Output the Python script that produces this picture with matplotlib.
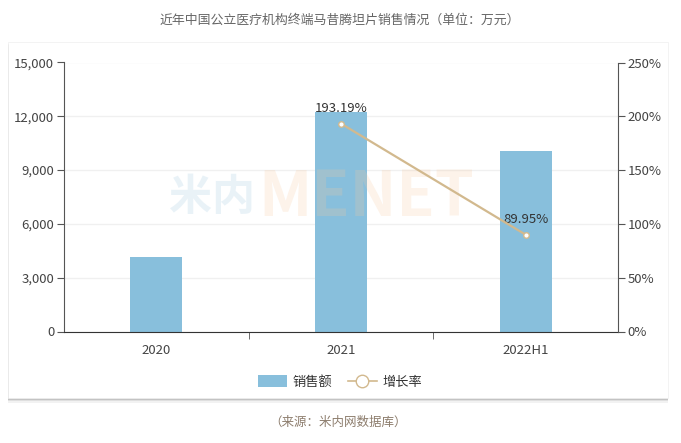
import matplotlib
matplotlib.use("Agg")
import matplotlib.pyplot as plt
from matplotlib.patches import FancyBboxPatch, Patch
from matplotlib.lines import Line2D
import matplotlib.ticker as mticker

plt.rcParams['font.family'] = ['Noto Sans CJK SC', 'DejaVu Sans']

categories = ['2020', '2021', '2022H1']
sales = [4170, 12230, 10060]
growth_x = ['2021', '2022H1']
growth = [193.19, 89.95]
growth_labels = ['193.19%', '89.95%']
left_ticks = [0, 3000, 6000, 9000, 12000, 15000]
right_ticks = [0, 50, 100, 150, 200, 250]
title = '近年中国公立医疗机构终端马昔腾坦片销售情况（单位：万元）'
source = '（来源：米内网数据库）'

W, H = 681, 443
fig = plt.figure(figsize=(W / 100, H / 100), dpi=100)
fig.patch.set_facecolor('white')

# card with shadow
for i, (off, a) in enumerate([(5, 0.05), (3, 0.08), (1.5, 0.12)]):
    sh = FancyBboxPatch((8 / W, (H - 398 - off) / H), 660 / W, 356 / H,
                        boxstyle='square,pad=0', transform=fig.transFigure,
                        facecolor='black', edgecolor='none', alpha=a, zorder=0)
    fig.patches.append(sh)
card = FancyBboxPatch((8 / W, (H - 398) / H), 660 / W, 356 / H,
                      boxstyle='square,pad=0', transform=fig.transFigure,
                      facecolor='white', edgecolor='#eeeeee', lw=0.5, zorder=1)
fig.patches.append(card)

fig.text(340 / W, 1 - 20 / H, title, ha='center', va='center', fontsize=9.3, color='#666666')
fig.text(338 / W, 1 - 422 / H, source, ha='center', va='center', fontsize=9, color='#8c7c6c')

ax = fig.add_axes([64 / W, 1 - 331.5 / H, 554 / W, 269 / H])
ax.set_facecolor('none')
ax.set_zorder(3)

x = list(range(len(categories)))
ax.bar(x, sales, width=0.28, color='#88bfdc', zorder=2)
ax.set_xlim(-0.5, len(categories) - 0.5)
ax.set_ylim(0, 15000)
ax.set_yticks(left_ticks)
ax.yaxis.set_major_formatter(mticker.FuncFormatter(lambda v, p: f'{int(v):,}'))
ax.set_xticks(x)
ax.set_xticklabels(categories)
ax.set_xticks([0.5, 1.5], minor=True)
ax.tick_params(axis='x', which='major', length=0, pad=9, labelsize=9.5, labelcolor='#444444')
ax.tick_params(axis='x', which='minor', length=5, color='#555555', direction='out')
ax.tick_params(axis='y', length=5, color='#555555', labelsize=9.5, labelcolor='#444444', pad=2)
ax.grid(axis='y', color='#f0f0f0', lw=1, zorder=0)
for s in ['top', 'right']:
    ax.spines[s].set_visible(False)
ax.spines['left'].set_color('#555555')
ax.spines['bottom'].set_color('#333333')
ax.set_axisbelow(True)

# watermark (faint, drawn over bars)
ax.text(0.345, 0.50, '米内', transform=ax.transAxes, ha='right', va='center',
        fontsize=31, fontweight='bold', color='#a9cde3', alpha=0.25, zorder=5)
ax.text(0.35, 0.50, 'MENET', transform=ax.transAxes, ha='left', va='center',
        fontsize=45, fontweight='bold', color='#f7c9a0', alpha=0.22, zorder=5)

ax2 = ax.twinx()
ax2.set_ylim(0, 250)
ax2.set_yticks(right_ticks)
ax2.yaxis.set_major_formatter(mticker.FuncFormatter(lambda v, p: f'{int(v)}%'))
ax2.tick_params(axis='y', length=5, color='#555555', labelsize=9.5, labelcolor='#444444', pad=2)
for s in ['top', 'left', 'bottom']:
    ax2.spines[s].set_visible(False)
ax2.spines['right'].set_color('#555555')

gx = [categories.index(c) for c in growth_x]
ax2.plot(gx, growth, color='#d2b98e', lw=1.6, marker='o', markersize=4,
         markerfacecolor='white', markeredgecolor='#d2b98e', markeredgewidth=1, zorder=4)
for xi, yi, lab in zip(gx, growth, growth_labels):
    ax2.annotate(lab, (xi, yi), xytext=(0, 11), textcoords='offset points',
                 ha='center', va='center', fontsize=9.5, color='#333333')

handles = [Patch(facecolor='#88bfdc', edgecolor='none'),
           Line2D([0], [0], color='#d2b98e', lw=1.2, marker='o', markersize=9,
                  markerfacecolor='white', markeredgecolor='#d2b98e')]
fig.legend(handles, ['销售额', '增长率'], loc='center', bbox_to_anchor=(340 / W, 1 - 382 / H),
           ncol=2, frameon=False, fontsize=9.5, handlelength=2.2, handleheight=1.0,
           columnspacing=1.2, handletextpad=0.4, labelcolor='#333333')

fig.savefig('out.png', dpi=100, facecolor='white')
